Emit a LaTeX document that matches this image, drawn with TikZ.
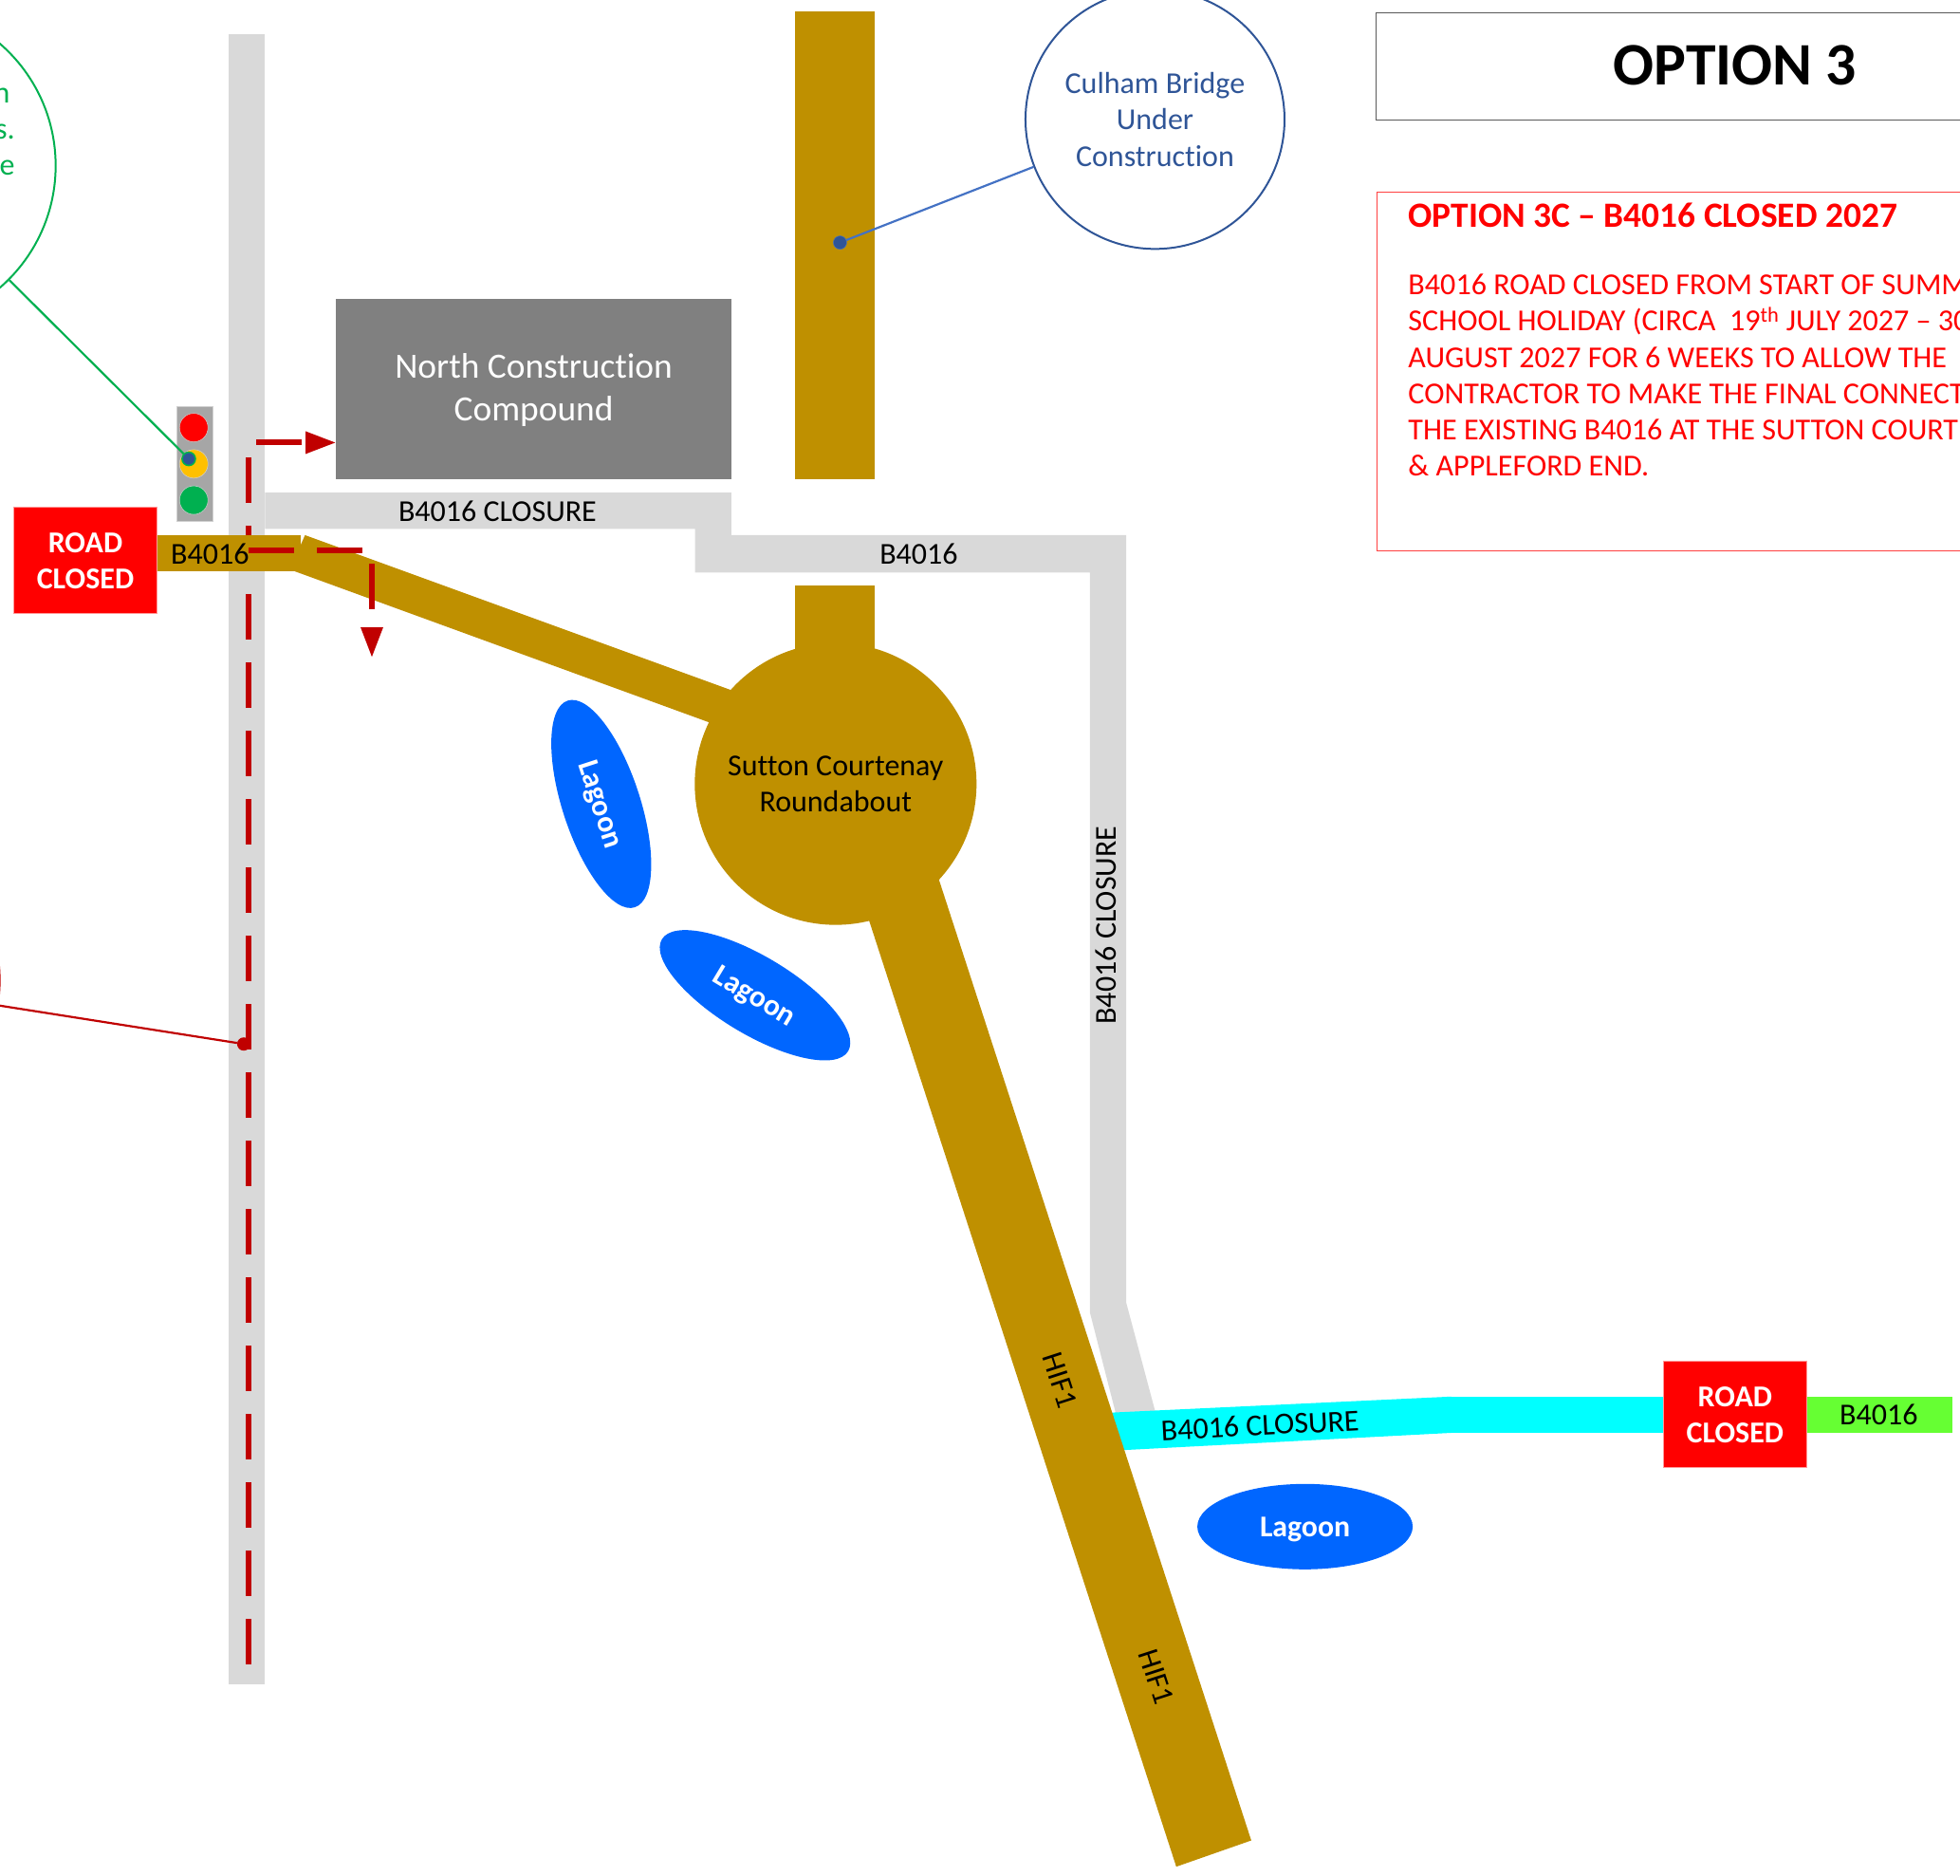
\documentclass[tikz,border=0pt]{standalone}
\usepackage{fontspec}
\setmainfont{Carlito}[Ligatures=NoCommon]
\usetikzlibrary{shapes.geometric,arrows.meta}
\definecolor{roadbrown}{HTML}{BF9000}
\definecolor{roadgrey}{HTML}{D9D9D9}
\definecolor{lagoonblue}{HTML}{0066FF}
\definecolor{darkred}{HTML}{C00000}
\definecolor{callblue}{HTML}{2F5597}
\definecolor{lineblue}{HTML}{4472C4}
\definecolor{callgreen}{HTML}{00B050}
\definecolor{closurecyan}{HTML}{00FFFF}
\definecolor{limegreen}{HTML}{66FF33}
\definecolor{amberlamp}{HTML}{FFC000}
\definecolor{signalgrey}{HTML}{A6A6A6}
\definecolor{puregreyline}{HTML}{D0D0D0}
\definecolor{purered}{HTML}{FF0000}
\tikzset{
  brown road/.style={fill=roadbrown,draw=none},
  grey road/.style={fill=roadgrey,draw=none},
  cyan road/.style={fill=closurecyan,draw=none},
  lbl/.style={font=\fontsize{32}{38}\selectfont,text=black,inner sep=0pt,align=center},
  lagoon/.style={ellipse,fill=lagoonblue,draw=none,inner sep=0pt,text=white,text depth=0pt,font=\bfseries\fontsize{31.8}{36}\selectfont},
  closed/.style={rectangle,fill=purered,draw=purered!40!white,line width=0.8pt,minimum width=150.5pt,minimum height=112pt,inner sep=0pt,text=white,align=center,font=\bfseries\fontsize{32}{38}\selectfont},
  lamp/.style={circle,minimum size=30pt,inner sep=0pt,draw=puregreyline,line width=0.5pt},
  closure dash/.style={draw=darkred,line width=6pt,dash pattern=on 48pt off 24pt},
  closure tip/.style={-{Triangle[length=32pt,width=22pt]}},
  callout/.style={circle,fill=none,inner sep=0pt,line width=2pt},
  callout line/.style={line width=2.2pt},
  dot/.style={circle,inner sep=0pt,minimum size=14pt},
  greentext/.style={inner sep=0pt,anchor=east,text=callgreen,font=\fontsize{32}{38}\selectfont},
}
\begin{document}
\begin{tikzpicture}[x=1.3176pt,y=-1.3176pt]
\useasboundingbox (0,0) rectangle (1568,1499.7);
\clip (0,0) rectangle (1568,1499.7);
% grey roads
\fill[grey road] (183,27) rectangle (212,1347);
\fill[grey road] (212,394) -- (585,394) -- (585,428) -- (901,428) -- (901,1042) -- (925,1132) -- (893,1132) -- (872,1050) -- (872,458) -- (556,458) -- (556,423) -- (212,423) -- cycle;
% long closure route lies under the brown road
\coordinate (dashN) at (199,366);
\coordinate (dashS) at (199,1332);
\draw[closure dash] (dashN) -- (dashS);
% cyan and green
\fill[cyan road] (885,1130) -- (1161,1117) -- (1161,1146) -- (895,1160) -- cycle;
\fill[cyan road] (1158,1117) rectangle (1335,1146);
\fill[fill=limegreen] (1445,1117) rectangle (1562,1146);
% brown roads
\fill[brown road] (126,428) rectangle (240.5,457);
\fill[brown road] (244,428) -- (585,552) -- (568,578) -- (236,457) -- (240,437) -- cycle;
\fill[brown road] (636,9) rectangle (700,383);
\fill[brown road] (636,468) rectangle (700,540);
\fill[brown road] (690,720) -- (750,700) -- (1001,1472) -- (941,1493) -- cycle;
\node[circle,fill=roadbrown,minimum size=297pt,inner sep=0pt,align=center,font=\fontsize{32}{38}\selectfont] (roundabout) at (668.5,627) {Sutton Courtenay\\Roundabout};
% compound
\node[rectangle,fill=black!50,minimum width=416.4pt,minimum height=189.7pt,inner sep=0pt] (compound) at (427,311) {};
\node[inner sep=0pt,align=center,text=white,font=\fontsize{37.4}{45}\selectfont] (compoundText) at (427,312) {North Construction\\Compound};
% road closed signs
\node[closed] (closedW) at (68.3,448.3) {ROAD\\CLOSED};
\node[closed] (closedE) at (1388,1131.5) {ROAD\\CLOSED};
% lagoons
\node[lagoon,minimum width=229pt,minimum height=82pt,rotate=-72] (lagA) at (481,643) {Lagoon};
\node[lagoon,minimum width=229pt,minimum height=82pt,rotate=-31] (lagB) at (604,796) {Lagoon};
\node[lagoon,minimum width=227pt,minimum height=90pt] (lagC) at (1044,1221) {Lagoon};
% labels
\node[lbl] (l1) at (398,409) {B4016 CLOSURE};
\node[lbl] (l2) at (735,443) {B4016};
\node[lbl] (l3) at (168,443) {B4016};
\node[lbl,rotate=90] (l4) at (885,740) {B4016 CLOSURE};
\node[lbl,rotate=3] (l5) at (1008,1140) {B4016 CLOSURE};
\node[lbl] (l6) at (1503,1131.5) {B4016};
\node[lbl,rotate=-72] (l7) at (848,1104) {HIF1};
\node[lbl,rotate=-72] (l8) at (925,1341) {HIF1};
% traffic light
\node[rectangle,fill=signalgrey,draw=puregreyline,line width=0.5pt,minimum width=38pt,minimum height=121pt,inner sep=0pt] (signal) at (155.5,371) {};
\node[lamp,fill=purered] (lampR) at (155,342) {};
\node[lamp,fill=amberlamp] (lampA) at (155,371) {};
\node[lamp,fill=callgreen] (lampG) at (155,400) {};
% dashed closure routes
\coordinate (dashE) at (199,440);
\coordinate (dashB) at (297.5,440);
\coordinate (dashD) at (297.5,526);
\coordinate (dashC) at (205,354);
\draw[closure dash,closure tip] (dashE) -- (dashB) -- (dashD);
\draw[closure dash,closure tip] (dashC) -- (dashC -| compound.west);
% callouts
\node[callout,draw=callgreen,minimum size=340pt] (callG) at (-84.5,132.5) {};
\node[dot,fill=callblue,draw=callgreen,line width=1.6pt] (dotG) at (151,367) {};
\draw[callgreen,callout line] (callG) -- (dotG);
\node[greentext] (g1) at (8,76.5) {n};
\node[greentext] (g2) at (12,105.5) {s.};
\node[greentext] (g3) at (12,134.5) {e};
\node[callout,draw=darkred,minimum size=340pt] (callR) at (-129.3,784) {};
\node[dot,fill=darkred] (dotR) at (195,835) {};
\draw[darkred,callout line] (callR) -- (dotR);
\node[callout,draw=callblue,minimum size=273pt,text=callblue,align=center,font=\fontsize{32}{38.4}\selectfont] (callB) at (924,95.5) {Culham Bridge\\Under\\Construction};
\node[dot,fill=callblue,draw=lineblue,line width=0.5pt] (dotB) at (672,194) {};
\draw[lineblue,callout line] (callB) -- (dotB);
% title boxes
\node[rectangle,draw=black!65,line width=1pt,minimum width=756pt,minimum height=113pt,inner sep=0pt,text depth=2.6pt,font=\bfseries\fontsize{63.6}{70}\selectfont] (title) at (1388,53) {OPTION 3};
\node[rectangle,draw=purered!75!white,line width=1pt,minimum width=700pt,minimum height=378pt,inner sep=0pt,anchor=north west] (notes) at (1101,153) {};
\node[anchor=west,inner sep=0pt,text=purered,font=\bfseries\fontsize{37.4}{42}\selectfont] (noteH) at (1126.5,172) {OPTION 3C – B4016 CLOSED 2027};
\node[anchor=north west,inner sep=0pt,text=purered,align=left,font=\fontsize{32.1}{38.3}\selectfont] (noteB) at (1126.5,219) {B4016 ROAD CLOSED FROM START OF SUMM\\SCHOOL HOLIDAY (CIRCA\ \ 19\textsuperscript{th} JULY 2027 – 30\\AUGUST 2027 FOR 6 WEEKS TO ALLOW THE\\CONTRACTOR TO MAKE THE FINAL CONNECT\\THE EXISTING B4016 AT THE SUTTON COURT\\\& APPLEFORD END.};
\end{tikzpicture}
\end{document}
